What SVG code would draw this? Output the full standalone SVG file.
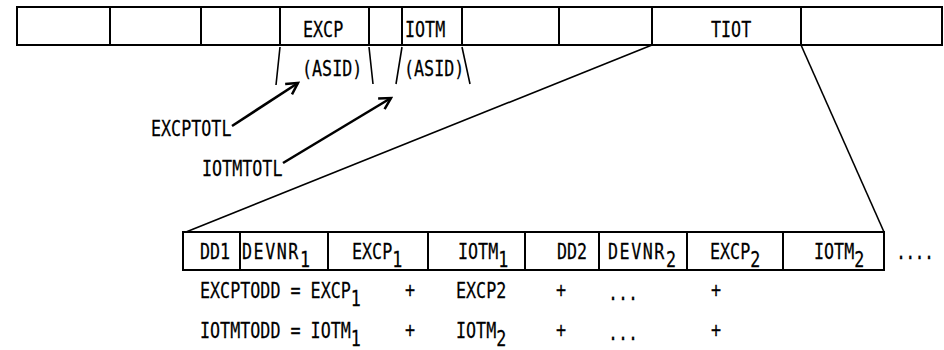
<svg xmlns="http://www.w3.org/2000/svg" width="944" height="350" viewBox="0 0 944 350">
<style>
  .box { fill: #fff; stroke: #000; stroke-width: 2; }
  .div { stroke: #000; stroke-width: 2; fill: none; }
  .ln { stroke: #000; stroke-width: 1.6; fill: none; }
  .arr { stroke: #000; stroke-width: 2.6; fill: none; marker-end: url(#head); }
  text { font-family: "DejaVu Sans Mono", "Liberation Mono", monospace; font-size: 22px; fill: #000; stroke: #000; stroke-width: 0.25; }
  .wide { letter-spacing: 2px; }
</style>
<defs>
  <marker id="head" viewBox="0 0 12 12" refX="10" refY="6" markerUnits="userSpaceOnUse" markerWidth="15" markerHeight="15" orient="auto">
    <path d="M1,1 L10,6 L1,11" fill="none" stroke="#000" stroke-width="2"/>
  </marker>
</defs>
<rect width="944" height="350" fill="#fff"/>

<g id="top-record">
  <rect class="box" x="17" y="7" width="925" height="38"/>
  <path class="div" d="M110,7V45 M201,7V45 M280,7V45 M369,7V45 M402,7V45 M462,7V45 M559,7V45 M652,7V45 M801,7V45"/>
  <text transform="translate(303 37) scale(0.76 1)">EXCP</text>
  <text transform="translate(405 37) scale(0.76 1)">IOTM</text>
  <text transform="translate(711 37) scale(0.76 1)">TIOT</text>
</g>

<g id="excp-asid">
  <path class="ln" d="M280,47 L276,85 M369,47 L373,84"/>
  <text transform="translate(302 76) scale(0.76 1)">(ASID)</text>
</g>
<g id="iotm-asid">
  <path class="ln" d="M402,47 L396,84 M462,47 L470,84"/>
  <text transform="translate(404 76) scale(0.76 1)">(ASID)</text>
</g>

<g id="excptotl">
  <text transform="translate(151 136) scale(0.76 1)">EXCPTOTL</text>
</g>
<g id="iotmtotl">
  <text transform="translate(202 176) scale(0.76 1)">IOTMTOTL</text>
</g>

<g id="connectors">
  <path class="arr" d="M232,126 L298,83"/>
  <path class="arr" d="M283,163 L391,98"/>
  <path class="ln" d="M652,45 L186,232"/>
  <path class="ln" d="M801,45 L884,232"/>
</g>

<g id="tiot-record">
  <rect class="box" x="183" y="232" width="701" height="38"/>
  <path class="div" d="M240,232V270 M328,232V270 M428,232V270 M525,232V270 M599,232V270 M687,232V270 M783,232V270"/>
  <text transform="translate(200 259) scale(0.76 1)">DD1</text>
  <text class="wide" transform="translate(242 259) scale(0.76 1)">DEVNR<tspan dy="8">1</tspan></text>
  <text transform="translate(352 259) scale(0.76 1)">EXCP<tspan dy="8">1</tspan></text>
  <text transform="translate(458 259) scale(0.76 1)">IOTM<tspan dy="8">1</tspan></text>
  <text transform="translate(557 259) scale(0.76 1)">DD2</text>
  <text class="wide" transform="translate(608 259) scale(0.76 1)">DEVNR<tspan dy="8">2</tspan></text>
  <text transform="translate(710 259) scale(0.76 1)">EXCP<tspan dy="8">2</tspan></text>
  <text transform="translate(814 259) scale(0.76 1)">IOTM<tspan dy="8">2</tspan></text>
  <text transform="translate(896 259) scale(0.76 1)" letter-spacing="-1">....</text>
</g>

<g id="excptodd">
  <text transform="translate(200 298) scale(0.76 1)">EXCPTODD = EXCP<tspan dy="8">1</tspan></text>
  <text transform="translate(405 297) scale(0.76 1)">+</text>
  <text transform="translate(456 298) scale(0.76 1)">EXCP2</text>
  <text transform="translate(556 297) scale(0.76 1)">+</text>
  <text transform="translate(608 300) scale(0.76 1)">...</text>
  <text transform="translate(711 297) scale(0.76 1)">+</text>
</g>

<g id="iotmtodd">
  <text transform="translate(200 338) scale(0.76 1)">IOTMTODD = IOTM<tspan dy="8">1</tspan></text>
  <text transform="translate(405 337) scale(0.76 1)">+</text>
  <text transform="translate(456 338) scale(0.76 1)">IOTM<tspan dy="8">2</tspan></text>
  <text transform="translate(556 337) scale(0.76 1)">+</text>
  <text transform="translate(608 340) scale(0.76 1)">...</text>
  <text transform="translate(711 337) scale(0.76 1)">+</text>
</g>
</svg>
